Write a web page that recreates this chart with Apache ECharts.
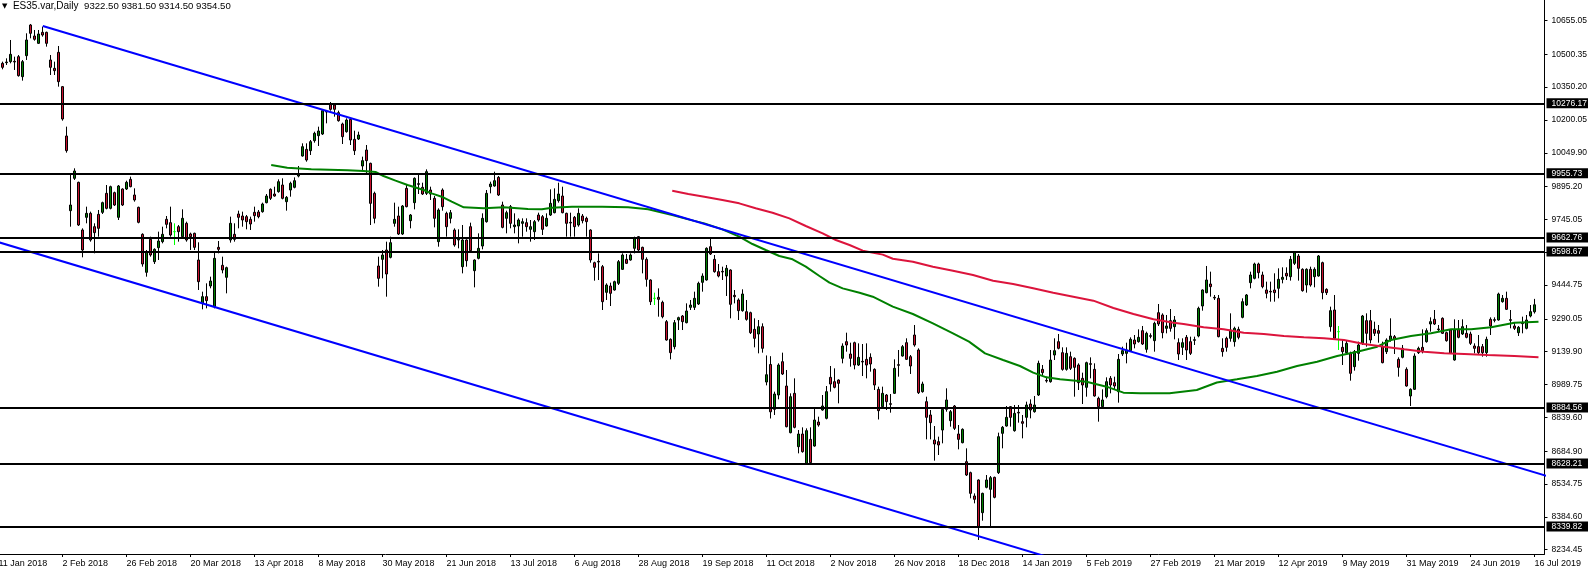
<!DOCTYPE html>
<html><head><meta charset="utf-8">
<script src="https://cdn.jsdelivr.net/npm/echarts@6/dist/echarts.min.js"></script>
<style>html,body{margin:0;padding:0;background:#fff;}#c{width:1588px;height:571px;}</style>
</head><body><div id="c"></div>
<script>
const SYMBOL = 'ES35.var,Daily';
const FIRST_DATE = [2018, 0, 11];
const LAST_DATE = [2019, 6, 16];
const HOLIDAYS = ['2018-03-30','2018-04-02','2018-05-01','2018-12-25','2018-12-26','2019-01-01','2019-04-19','2019-04-22','2019-05-01'];
const MONTHS = ['Jan','Feb','Mar','Apr','May','Jun','Jul','Aug','Sep','Oct','Nov','Dec'];

// Daily OHLC, first visible bar = 12 Jan 2018, last = 16 Jul 2019
const openP = [10458.9,10462.0,10466.6,10468.1,10489.4,10398.0,10494.0,10634.3,10584.0,10550.4,10600.7,10600.7,10474.2,10436.1,10509.3,10352.2,10126.6,9785.0,9932.9,9914.6,
9696.6,9754.5,9772.8,9711.8,9768.2,9777.4,9864.3,9795.7,9867.4,9754.5,9884.1,9884.1,9928.3,9856.7,9800.3,9676.8,9503.0,9653.9,9551.7,9615.8,
9643.2,9745.4,9730.1,9689.0,9711.8,9666.1,9727.1,9678.3,9681.4,9559.4,9361.2,9391.7,9440.4,9345.9,9617.3,9535.0,9480.1,9650.9,9676.8,9769.8,
9760.6,9757.6,9745.4,9777.4,9778.9,9780.4,9821.6,9882.6,9861.2,9871.9,9902.4,9826.1,9879.5,9891.7,9943.5,10035.0,10065.5,10059.4,10105.2,10128.0,
10135.6,10236.3,10272.9,10268.3,10233.2,10181.4,10146.3,10202.7,10111.2,10112.8,9989.3,10062.4,10001.5,9864.2,9531.9,9562.3,9605.0,9571.5,9727.0,9760.6,
9678.2,9887.1,9739.2,9821.6,9905.4,9891.7,9864.2,9879.5,9841.4,9643.2,9879.5,9772.8,9749.9,9696.5,9650.8,9528.8,9650.8,9711.8,9510.5,9566.9,
9623.3,9734.6,9894.7,9897.8,9937.4,9810.9,9749.9,9803.3,9711.8,9714.8,9727.0,9730.1,9699.6,9688.9,9765.1,9757.5,9714.8,9765.1,9775.8,9830.7,
9852.0,9772.8,9731.6,9754.5,9719.4,9760.6,9749.9,9696.5,9547.1,9553.2,9528.8,9411.4,9440.4,9422.1,9452.6,9516.6,9562.4,9559.3,9612.7,9666.1,
9617.3,9562.4,9467.9,9384.0,9388.6,9365.7,9277.3,9196.5,9162.9,9284.9,9303.2,9272.7,9342.8,9342.8,9358.1,9457.2,9467.9,9620.3,9562.4,9505.9,
9507.5,9486.1,9513.6,9397.7,9376.4,9327.6,9323.0,9318.4,9242.2,9220.8,9254.4,9001.2,9081.4,8876.3,8941.8,9094.3,8983.0,8769.5,8949.4,8705.5,
8763.4,8629.3,8739.0,8708.5,8818.3,8873.2,8835.1,9022.6,9002.8,9010.4,9109.5,9185.8,9129.4,9181.2,9079.0,9095.8,9104.9,9114.1,9059.2,8967.7,
8888.5,8941.8,8902.2,8949.5,9080.6,9120.2,9181.2,9117.2,9216.3,9147.7,8957.1,8911.4,8850.4,8736.0,8728.4,8781.7,8876.3,8824.5,8891.5,8763.5,
8723.8,8636.9,8586.6,8479.9,8553.1,8403.6,8519.5,8510.4,8565.3,8586.6,8766.5,8800.0,8888.5,8778.7,8862.6,8819.9,8839.7,8900.7,8865.6,8941.8,
9059.2,9009.0,9002.8,9124.8,9185.8,9135.5,9059.2,9117.2,9109.6,9079.1,9018.1,8976.9,9085.2,9059.2,8926.6,8888.5,8934.2,9018.1,8998.3,8957.1,
9129.4,9132.4,9144.6,9193.4,9185.8,9236.1,9150.7,9213.3,9190.4,9318.4,9307.8,9246.8,9281.9,9254.4,9181.2,9159.9,9205.6,9185.8,9195.0,9211.7,
9349.0,9410.0,9449.6,9388.6,9384.0,9155.3,9201.1,9201.1,9185.8,9242.2,9297.1,9353.5,9455.7,9475.5,9541.1,9490.8,9422.2,9416.0,9422.2,9429.8,
9470.9,9498.4,9483.1,9544.1,9577.7,9516.7,9445.0,9516.7,9483.1,9486.2,9547.2,9425.2,9254.4,9330.7,9231.6,9159.9,9135.5,9132.4,9071.5,9132.4,
9178.2,9281.9,9281.9,9242.2,9236.2,9163.0,9140.1,9193.4,9208.7,9105.0,9114.2,9059.3,8937.3,8967.8,9135.5,9159.9,9185.8,9266.6,9288.0,9243.8,
9292.6,9227.0,9239.2,9102.0,9242.2,9220.9,9224.0,9220.9,9166.0,9163.0,9163.0,9135.5,9288.0,9286.5,9284.9,9368.8,9384.0,9286.5,9257.5,9227.0,
9271.2,9246.8,9303.2,9322.5];
const highP = [10466.6,10481.8,10565.7,10489.4,10497.1,10474.2,10596.2,10638.9,10611.4,10611.4,10626.7,10603.8,10497.1,10466.6,10538.2,10355.3,10169.3,9948.2,9978.7,9917.7,
9704.2,9803.3,9780.5,9727.1,9788.1,9826.2,9902.4,9899.4,9871.9,9902.4,9887.2,9922.2,9940.6,9887.2,9803.3,9681.4,9605.1,9666.1,9612.7,9689.0,
9711.8,9760.6,9803.3,9727.1,9719.5,9791.1,9734.7,9684.4,9684.4,9640.2,9414.5,9452.6,9483.1,9592.9,9646.3,9574.6,9528.9,9757.6,9727.1,9785.0,
9780.5,9765.2,9757.6,9803.3,9788.1,9821.6,9861.2,9887.1,9894.7,9928.3,9932.9,9852.0,9917.6,9937.4,9989.3,10093.0,10093.0,10108.2,10146.3,10169.2,
10248.5,10245.4,10282.0,10272.9,10242.4,10187.5,10207.3,10207.3,10150.9,10146.3,10032.0,10085.3,10004.5,9871.9,9574.5,9605.0,9643.2,9666.0,9821.6,9803.3,
9810.9,9902.4,9769.7,9937.4,9948.1,9913.0,9974.0,9894.7,9852.0,9795.7,9887.1,9780.4,9788.0,9704.2,9699.6,9719.4,9653.8,9730.1,9562.3,9681.3,
9772.8,9879.5,9917.6,9963.4,9943.5,9826.1,9785.0,9810.9,9772.8,9749.9,9749.9,9749.9,9742.3,9742.3,9775.8,9765.1,9772.8,9882.6,9887.1,9913.0,
9894.7,9775.8,9775.8,9760.6,9795.7,9769.7,9757.5,9699.6,9551.7,9589.8,9536.5,9452.6,9455.7,9464.8,9559.3,9589.8,9586.8,9589.8,9666.1,9669.1,
9620.3,9571.5,9470.9,9409.9,9429.7,9373.3,9284.9,9201.0,9284.9,9300.1,9307.8,9361.1,9376.4,9414.5,9460.2,9498.3,9617.3,9658.4,9582.2,9541.0,
9528.8,9536.5,9516.6,9422.1,9384.0,9425.2,9376.4,9323.0,9292.5,9284.9,9269.6,9122.8,9119.4,8957.1,9086.7,9135.5,9056.2,8949.4,9018.0,8781.7,
8793.9,8789.3,8793.9,8880.8,8842.7,8941.8,8983.0,9074.5,9063.8,9013.5,9178.2,9226.9,9181.2,9185.8,9178.2,9175.1,9178.2,9132.4,9063.8,8979.9,
8980.0,8946.4,8946.4,9105.0,9147.7,9170.6,9201.1,9124.8,9262.1,9155.3,9002.8,8934.2,8873.2,8800.0,8751.3,8880.9,8972.4,8873.2,8896.1,8804.6,
8789.3,8697.9,8591.2,8492.0,8556.1,8495.1,8575.9,8571.4,8568.3,8769.6,8800.0,8891.5,8891.5,8896.1,8896.1,8850.4,8911.4,8922.0,8937.3,9098.9,
9079.1,9025.7,9147.7,9201.1,9220.9,9159.9,9159.9,9140.1,9114.1,9086.7,9044.0,9094.3,9114.1,9086.7,8934.2,8967.8,9022.7,9028.7,9025.7,9129.4,
9162.9,9181.2,9205.6,9216.3,9242.2,9257.5,9231.5,9223.9,9277.3,9358.1,9315.4,9307.8,9335.2,9303.2,9201.1,9201.1,9216.3,9208.7,9208.7,9345.9,
9425.2,9532.0,9506.0,9399.3,9399.3,9201.1,9208.7,9315.4,9254.4,9254.4,9384.0,9403.8,9506.0,9547.2,9547.2,9506.0,9460.3,9460.3,9498.4,9521.3,
9525.8,9525.8,9577.7,9597.5,9586.8,9521.3,9521.3,9528.9,9525.8,9582.2,9551.7,9429.8,9345.9,9399.3,9257.5,9193.4,9193.4,9140.1,9147.7,9185.8,
9307.8,9315.4,9330.7,9277.3,9262.1,9185.8,9201.1,9292.6,9216.3,9114.2,9170.6,9068.4,8972.4,9132.4,9163.0,9242.2,9246.8,9297.1,9330.7,9262.1,
9297.1,9231.6,9242.2,9288.0,9284.9,9288.0,9262.1,9231.6,9178.2,9216.3,9175.2,9208.7,9297.1,9297.1,9410.0,9399.3,9414.5,9330.7,9272.7,9257.5,
9300.2,9307.8,9353.5,9381.5];
const lowP = [10431.5,10451.3,10458.9,10428.5,10398.0,10379.7,10474.2,10573.3,10562.6,10547.4,10580.9,10535.2,10405.6,10405.6,10352.2,10196.7,10050.3,9711.8,9925.3,9714.9,
9571.6,9727.1,9643.2,9589.9,9666.1,9769.8,9791.1,9791.1,9806.4,9742.3,9806.4,9879.6,9891.8,9826.2,9727.1,9528.9,9483.1,9574.6,9541.1,9559.4,
9635.6,9704.2,9666.1,9628.0,9643.2,9658.5,9643.2,9605.1,9605.1,9422.2,9333.7,9338.3,9429.8,9338.3,9589.9,9498.4,9406.9,9638.7,9643.2,9704.2,
9711.8,9699.6,9696.6,9734.7,9750.0,9775.8,9818.5,9833.8,9849.0,9867.3,9836.8,9785.0,9849.0,9887.1,9937.4,10032.0,10009.1,10039.6,10096.0,10080.8,
10131.1,10184.4,10242.4,10214.9,10192.1,10089.9,10141.8,10085.3,10039.6,10108.2,9971.0,9955.7,9719.4,9727.0,9437.3,9475.5,9391.6,9566.9,9711.8,9673.7,
9673.7,9800.2,9704.2,9791.1,9861.2,9856.6,9856.6,9833.8,9708.7,9620.3,9785.0,9666.0,9727.0,9620.3,9612.7,9498.3,9528.8,9597.4,9434.3,9562.3,
9608.1,9730.1,9864.2,9894.7,9852.0,9704.2,9681.3,9704.2,9681.3,9635.5,9666.0,9688.9,9643.2,9650.8,9734.6,9673.7,9711.8,9760.6,9772.8,9821.6,
9772.8,9666.0,9666.0,9666.0,9711.8,9727.0,9666.0,9547.1,9464.8,9467.8,9330.6,9376.4,9348.9,9419.1,9445.0,9513.6,9541.0,9556.3,9589.8,9597.4,
9498.3,9437.4,9353.5,9353.5,9300.1,9292.5,9190.4,9104.9,9150.7,9239.1,9239.1,9269.6,9330.6,9330.6,9353.5,9414.5,9464.8,9582.2,9501.4,9480.0,
9467.9,9394.7,9292.5,9361.1,9284.9,9323.0,9281.8,9220.8,9159.9,9132.4,9135.5,8985.9,8834.4,8850.4,8922.0,9033.3,8793.9,8766.5,8789.3,8675.0,
8678.1,8626.2,8629.3,8705.5,8796.9,8870.2,8830.5,8957.1,8972.3,8903.7,9086.7,9140.0,9071.4,9059.2,9074.5,9028.7,9018.0,9048.6,8964.7,8829.9,
8880.9,8873.2,8861.0,8946.4,9025.7,9117.2,9101.9,9038.0,9162.9,8946.4,8952.5,8739.0,8739.0,8641.5,8667.4,8720.8,8865.6,8797.0,8781.7,8693.3,
8720.8,8571.4,8469.2,8446.4,8278.6,8367.0,8515.0,8339.6,8469.2,8580.5,8697.9,8797.0,8797.0,8774.1,8815.3,8743.7,8794.0,8835.1,8861.0,8937.3,
9033.3,8998.3,8998.3,9101.9,9150.7,9053.2,9053.2,9056.2,8934.2,8964.7,8900.7,8934.2,9018.1,8934.2,8819.9,8885.4,8926.6,8949.5,8967.8,8906.8,
9120.2,9086.7,9140.1,9155.3,9181.2,9170.6,9135.5,9201.1,9140.1,9257.5,9201.1,9223.9,9231.6,9196.5,9102.0,9124.8,9102.0,9124.8,9170.6,9205.6,
9327.6,9406.9,9391.7,9376.4,9205.6,9117.2,9140.1,9185.8,9163.0,9196.5,9292.6,9349.0,9429.8,9470.9,9475.5,9429.8,9384.0,9368.8,9368.8,9384.0,
9452.6,9467.9,9464.9,9536.5,9464.9,9414.5,9410.0,9437.4,9434.4,9483.1,9379.5,9399.3,9231.6,9196.5,9147.7,9079.1,9129.4,9007.4,9053.2,9098.9,
9170.6,9163.0,9178.2,9211.7,9181.2,9086.7,9129.4,9185.8,9129.4,9025.7,9109.6,8980.0,8891.6,8964.7,9129.4,9132.4,9181.2,9231.6,9262.1,9231.6,
9220.9,9185.8,9129.4,9098.9,9201.1,9216.3,9201.1,9170.6,9132.4,9129.4,9117.2,9117.2,9216.3,9274.3,9281.9,9364.2,9330.7,9246.8,9239.2,9211.7,
9224.0,9242.2,9297.1,9314.5];
const closeP = [10440.7,10465.0,10500.1,10465.0,10402.5,10466.6,10565.7,10596.2,10568.7,10593.1,10588.5,10550.4,10440.7,10425.4,10375.1,10204.3,10059.5,9810.9,9966.5,9719.5,
9605.1,9772.8,9650.9,9684.4,9704.2,9821.6,9795.7,9894.8,9810.9,9897.8,9810.9,9914.6,9894.8,9833.8,9731.6,9541.1,9594.4,9582.2,9608.2,9646.3,
9676.8,9722.5,9673.7,9689.0,9689.0,9750.0,9650.9,9666.1,9617.3,9460.3,9391.7,9373.4,9463.3,9567.0,9608.2,9513.6,9524.3,9727.1,9653.9,9754.5,
9742.3,9734.7,9724.0,9762.2,9757.6,9815.5,9852.0,9841.4,9852.0,9917.6,9841.4,9846.0,9910.0,9922.2,9949.6,10077.7,10016.7,10100.6,10138.7,10149.4,
10242.4,10239.3,10248.5,10248.5,10196.6,10123.5,10199.7,10108.2,10059.4,10131.1,10013.7,10013.7,9818.5,9749.9,9475.5,9582.2,9495.3,9638.6,9745.3,9678.2,
9806.3,9803.3,9765.1,9932.9,9908.5,9861.2,9963.4,9861.2,9749.9,9788.0,9803.3,9711.8,9775.8,9627.9,9653.8,9650.8,9556.2,9602.0,9559.3,9612.7,
9749.9,9864.2,9906.9,9922.2,9856.6,9708.7,9775.8,9727.0,9719.4,9742.3,9734.6,9711.8,9711.8,9734.6,9742.3,9699.6,9749.9,9818.5,9836.8,9861.2,
9775.8,9727.0,9728.5,9711.8,9772.8,9739.2,9734.6,9559.3,9525.8,9550.1,9368.7,9445.0,9406.9,9460.2,9551.7,9582.2,9544.1,9582.2,9658.4,9605.1,
9562.4,9470.9,9368.7,9384.0,9379.4,9300.1,9193.4,9135.5,9272.7,9295.6,9277.3,9326.1,9353.5,9384.0,9452.6,9486.1,9612.7,9586.8,9505.9,9486.1,
9504.4,9521.2,9356.6,9391.6,9327.6,9403.8,9287.9,9226.9,9201.0,9254.4,9155.3,9034.7,8864.9,8946.4,9079.0,9037.9,8796.9,8934.2,8793.9,8763.4,
8682.6,8778.7,8632.3,8827.5,8804.6,8891.5,8957.1,8992.1,8976.9,8995.2,9165.9,9170.5,9109.5,9079.0,9114.1,9092.8,9079.0,9083.6,8987.6,8870.2,
8949.5,8911.4,8899.2,9063.8,9077.6,9162.9,9105.0,9074.5,9170.6,8952.5,8992.2,8839.7,8815.3,8717.7,8713.1,8876.3,8919.0,8865.6,8789.3,8739.0,
8784.8,8575.9,8492.0,8464.6,8339.6,8492.0,8553.1,8563.7,8473.8,8751.3,8794.0,8839.7,8839.7,8858.0,8859.5,8812.3,8896.1,8873.2,8896.1,9086.7,
9044.0,9005.9,9101.9,9144.6,9155.3,9059.2,9132.4,9063.8,9068.4,8998.3,8987.6,9089.7,9082.1,8937.3,8888.5,8919.0,9002.8,8987.6,8983.0,9105.0,
9144.6,9147.7,9196.5,9175.1,9205.6,9175.1,9223.9,9210.2,9269.7,9266.6,9227.0,9257.5,9246.8,9284.9,9129.4,9181.2,9147.7,9132.4,9191.9,9338.3,
9422.2,9467.9,9437.4,9385.6,9208.7,9140.1,9159.9,9239.2,9246.8,9205.6,9368.8,9399.3,9490.8,9541.1,9501.4,9437.4,9406.9,9413.0,9410.0,9470.9,
9480.1,9486.2,9562.4,9592.9,9521.3,9419.1,9516.7,9445.0,9516.7,9577.7,9410.0,9410.0,9327.6,9201.1,9231.6,9140.1,9178.2,9041.0,9140.1,9170.6,
9303.2,9224.0,9193.4,9224.0,9224.0,9089.8,9193.4,9211.7,9196.5,9068.4,9155.3,8983.0,8967.8,9120.2,9155.3,9144.6,9236.2,9277.3,9266.6,9240.7,
9224.0,9190.4,9132.4,9239.2,9205.6,9254.4,9205.6,9178.2,9155.3,9135.5,9135.5,9196.5,9257.5,9283.4,9403.8,9384.0,9333.7,9283.4,9246.8,9251.4,
9268.2,9284.9,9323.1,9354.5];

// Indicator lines: [bar index, price]
const greenMA = [[67,9993.8],[71,9981.6],[77,9974.0],[86,9969.5],[90,9966.4],[93,9961.8],[95,9943.5],[98,9922.2],[101,9902.4],[105,9879.5],[107,9864.2],[109.5,9849.0],[112,9826.1],[115,9800.2],[120,9795.7],[125,9800.2],[131,9792.6],[134.5,9791.1],[137,9798.7],[142,9803.3],[149.5,9803.3],[156,9800.2],[161,9791.1],[167,9765.2],[171,9745.3],[175,9727.0],[179.5,9699.6],[183.7,9666.1],[187,9632.5],[190.3,9605.1],[193.7,9577.6],[197,9562.4],[200.3,9528.8],[203.7,9486.1],[206.2,9455.6],[209.5,9429.7],[213.7,9409.9],[217,9391.6],[222,9345.9],[227,9312.4],[232,9269.7],[237,9223.9],[241,9185.8],[245,9132.4],[249.5,9101.9],[253.7,9074.5],[257,9044.0],[260.3,9022.7],[263.7,9013.5],[270.3,9002.8],[275.3,8980.0],[279.5,8952.5],[283.7,8949.5],[291,8949.5],[297.8,8964.7],[302.8,8998.9],[307.8,9013.5],[312.8,9028.8],[317.8,9048.6],[322.8,9074.5],[327.8,9094.3],[332.8,9120.2],[337.8,9140.1],[342.8,9162.9],[346.2,9193.4],[351.2,9211.7],[356.2,9223.9],[361.2,9242.2],[366.2,9242.2],[371.2,9251.4],[377,9272.7],[383,9277.3]];
const redMA = [[167,9876.5],[171,9861.2],[175,9849.0],[179.5,9833.8],[183.7,9818.5],[187.8,9795.7],[192,9775.8],[196.2,9749.9],[200.3,9714.8],[204.5,9681.3],[207.8,9650.8],[211.2,9627.9],[214.5,9602.0],[219.5,9584.0],[222,9565.0],[227,9551.7],[232,9528.9],[237,9510.6],[242,9490.7],[247,9464.8],[252,9449.6],[257,9429.8],[262,9409.9],[267,9391.6],[272,9373.4],[277,9340.0],[282,9312.0],[287,9288.0],[292,9272.0],[294.5,9266.6],[299.5,9251.4],[304.5,9242.2],[309.5,9227.0],[314.5,9220.9],[319.5,9211.7],[324.5,9205.6],[329.5,9201.1],[334.5,9193.4],[339.5,9175.2],[344.5,9163.0],[349.5,9150.7],[354.5,9140.1],[359.5,9132.4],[364.5,9129.4],[370.3,9124.8],[377,9120.2],[383,9115.0]];
const upperTrend = [[10.05,10629.7],[385.5,8569.2]];
const lowerTrend = [[-1.5,9643.6],[262,8193.5]];
const levels = [10276.17, 9955.73, 9662.76, 9598.67, 8884.56, 8628.21, 8339.82];
const yTicks = [10655.05,10500.35,10350.20,10200.05,10049.90,9895.20,9745.05,9594.90,9444.75,9290.05,9139.90,8989.75,8839.60,8684.90,8534.75,8384.60,8234.45];
const Y_MIN = 8214.6, Y_MAX = 10748.6;

function tradingDays() {
  const out = [];
  let t = Date.UTC(FIRST_DATE[0], FIRST_DATE[1], FIRST_DATE[2]);
  const end = Date.UTC(LAST_DATE[0], LAST_DATE[1], LAST_DATE[2]);
  while (t <= end) {
    const d = new Date(t);
    const wd = d.getUTCDay();
    const s = d.toISOString().slice(0, 10);
    if (wd !== 0 && wd !== 6 && HOLIDAYS.indexOf(s) < 0) out.push(s);
    t += 86400000;
  }
  return out;
}
const dates = tradingDays();           // index 0 = 11 Jan 2018 (just off the left edge)
const PAD = 2;
const categories = dates.concat(new Array(PAD).fill(''));
const EMPTY = ['-', '-', '-', '-'];
const candleData = [EMPTY];
for (let i = 0; i < closeP.length; i++) {
  const item = { value: [openP[i], closeP[i], lowP[i], highP[i]] };
  if (openP[i] === closeP[i]) item.itemStyle = { borderColor: '#00ff00', borderColor0: '#00ff00', borderColorDoji: '#00ff00' };
  candleData.push(item);
}
while (candleData.length < categories.length) candleData.push(EMPTY);

const n = closeP.length - 1;
const f2 = v => v.toFixed(2);
const nums = [openP[n], highP[n], lowP[n], closeP[n]].map(f2).join(' ');

const FONT = 'Liberation Sans, Arial, sans-serif';
const chart = echarts.init(document.getElementById('c'), null, { renderer: 'canvas' });
chart.setOption({
  animation: false,
  backgroundColor: '#ffffff',
  title: {
    text: '{tri|▼}  {nm|' + SYMBOL + '}  {nu|' + nums + '}', left: 2, top: 1, padding: 0,
    textStyle: { fontSize: 10, fontWeight: 'normal', color: '#000', fontFamily: FONT,
      rich: { tri: { fontSize: 7, color: '#000', fontFamily: 'DejaVu Sans' },
              nm: { fontSize: 10, color: '#000', fontFamily: FONT },
              nu: { fontSize: 9.6, color: '#000', fontFamily: FONT } } }
  },
  grid: { left: -3.5, top: 0, width: 1548, height: 554, containLabel: false, outerBoundsMode: 'none' },
  xAxis: [{
    type: 'category', data: categories, boundaryGap: true,
    axisLine: { show: true, onZero: false, lineStyle: { color: '#000', width: 1 } },
    axisTick: { show: true, interval: 15, alignWithLabel: true, length: 3, lineStyle: { color: '#000' } },
    axisLabel: {
      interval: 15, align: 'left', margin: 5, color: '#000', fontSize: 9, fontFamily: FONT,
      formatter: v => { if (!v) return ''; const p = v.split('-'); return (+p[2]) + ' ' + MONTHS[+p[1] - 1] + ' ' + p[0]; }
    },
    splitLine: { show: false }
  }, {
    type: 'value', min: -1.5, max: categories.length - 2.5, show: false
  }],
  yAxis: {
    type: 'value', position: 'right', min: Y_MIN, max: Y_MAX, scale: true,
    axisLine: { show: true, onZero: false, lineStyle: { color: '#000', width: 1 } },
    axisTick: { show: true, inside: false, length: 3, lineStyle: { color: '#000' }, customValues: yTicks },
    axisLabel: { show: true, margin: 7, color: '#000', fontSize: 8.5, fontFamily: FONT, customValues: yTicks, formatter: v => f2(v) },
    splitLine: { show: false }
  },
  series: [{
    type: 'candlestick', data: candleData, barWidth: 2, z: 2,
    itemStyle: { color: '#008000', color0: '#c8102e', borderColor: '#000', borderColor0: '#000', borderColorDoji: '#00ff00', borderWidth: 1 }
  }, {
    type: 'line', xAxisIndex: 1, data: greenMA, symbol: 'none', z: 3, clip: true,
    lineStyle: { color: '#008000', width: 2 }
  }, {
    type: 'line', xAxisIndex: 1, data: redMA, symbol: 'none', z: 3, clip: true,
    lineStyle: { color: '#dc143c', width: 2 }
  }, {
    type: 'line', xAxisIndex: 1, data: upperTrend, symbol: 'none', z: 4, clip: true,
    lineStyle: { color: '#0000ff', width: 2 }
  }, {
    type: 'line', xAxisIndex: 1, data: lowerTrend, symbol: 'none', z: 4, clip: true,
    lineStyle: { color: '#0000ff', width: 2 },
    markLine: {
      silent: true, symbol: 'none', z: 6,
      lineStyle: { color: '#000', width: 2, type: 'solid' },
      label: { show: true, position: 'end', distance: 2, formatter: p => f2(p.value), color: '#fff', backgroundColor: '#000', padding: [1, 6, 0, 5], fontSize: 8.5, fontFamily: FONT },
      data: levels.map(v => ({ yAxis: v })).concat([{ yAxis: closeP[n], lineStyle: { width: 0, opacity: 0 } }])
    }
  }]
});
</script></body></html>
